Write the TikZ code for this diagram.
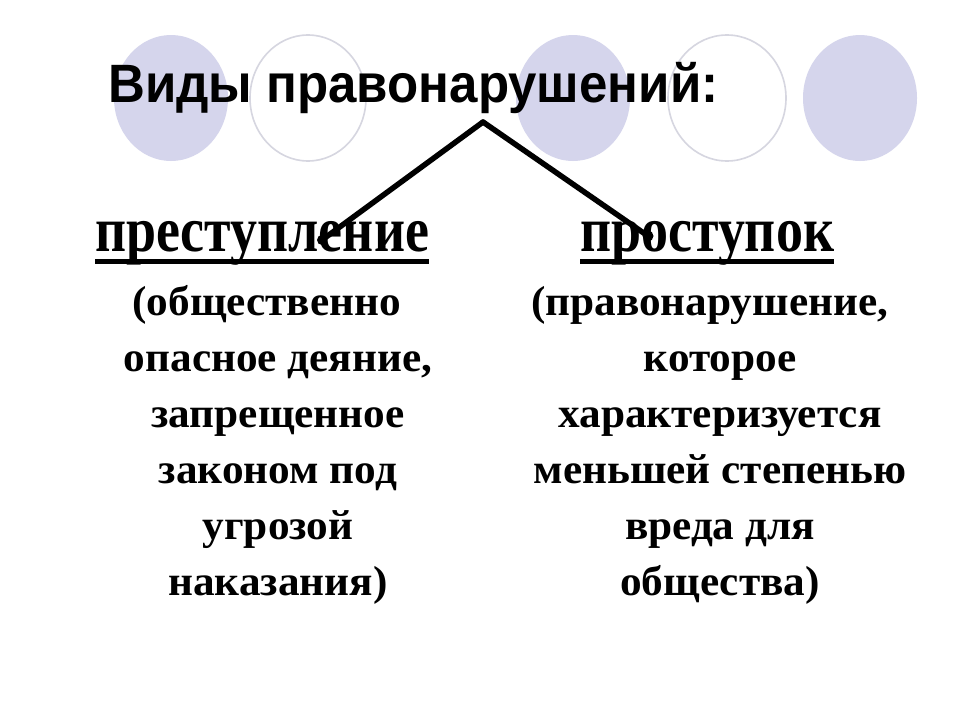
\documentclass[tikz,border=0pt]{standalone}
\usepackage{fontspec}
\usepackage{graphicx}
\setmainfont{Liberation Serif}
\newfontfamily\titlefont{Liberation Sans}
\usetikzlibrary{arrows.meta}
\definecolor{lav}{RGB}{213,213,236}
\definecolor{ring}{RGB}{214,214,224}
\tikzset{
  filledc/.style={fill=lav, draw=none},
  ringc/.style={draw=ring, line width=1.6pt, fill=none},
  titletext/.style={inner sep=0pt, anchor=base west, font=\titlefont\bfseries\fontsize{54}{60}\selectfont},
  headtext/.style={inner sep=0pt, anchor=base west, font=\bfseries\fontsize{64}{70}\selectfont},
  bodytext/.style={inner sep=0pt, anchor=base, align=center, font=\bfseries\fontsize{42}{56}\selectfont},
  uline/.style={line width=5pt},
  conn/.style={line width=5.5pt, line cap=round}
}
\newcommand{\hs}[1]{\scalebox{0.843}[1]{#1}}
\newcommand{\bs}[1]{\scalebox{1.03}[1]{#1}}
\begin{document}
\begin{tikzpicture}[x=1pt,y=-1pt]
\useasboundingbox (0,0) rectangle (960,720);
\fill[white] (0,0) rectangle (960,720);
% decorative circles
\path[filledc] (171,98) ellipse [x radius=57, y radius=63];
\path[ringc] (308,98) ellipse [x radius=58, y radius=63];
\path[filledc] (573,98) ellipse [x radius=57, y radius=63];
\path[ringc] (727,98) ellipse [x radius=59, y radius=63];
\path[filledc] (860,98) ellipse [x radius=57, y radius=63];
% title
\node[titletext] (title) at (108,102) {\scalebox{0.945}[1]{Виды правонарушений:}};
% headings
\node[headtext] (hl) at (95,251) {\hs{преступление}};
\node[headtext] (hr) at (580,251) {\hs{проступок}};
\draw[uline] ([yshift=-10pt]hl.base west) -- ([yshift=-10pt]hl.base east);
\draw[uline] ([yshift=-10pt]hr.base west) -- ([yshift=-10pt]hr.base east);
% bodies
\node[bodytext] (bl) at (278,595) {\bs{(общественно\hspace*{22pt}}\\\bs{опасное деяние,}\\\bs{запрещенное}\\\bs{законом под}\\\bs{угрозой}\\\bs{наказания)}};
\node[bodytext] (br) at (720,595) {\bs{(правонарушение,\hspace*{20pt}}\\\bs{которое}\\\bs{характеризуется}\\\bs{меньшей степенью}\\\bs{вреда для}\\\bs{общества)}};
% connectors
\coordinate (apex) at (483,122);
\coordinate (lend) at (322,240);
\coordinate (rend) at (648,236);
\draw[conn] (apex) -- (lend);
\draw[conn] (apex) -- (rend);
\fill (rend) circle (5.5pt);
\fill (lend) circle (5pt);
\end{tikzpicture}
\end{document}
